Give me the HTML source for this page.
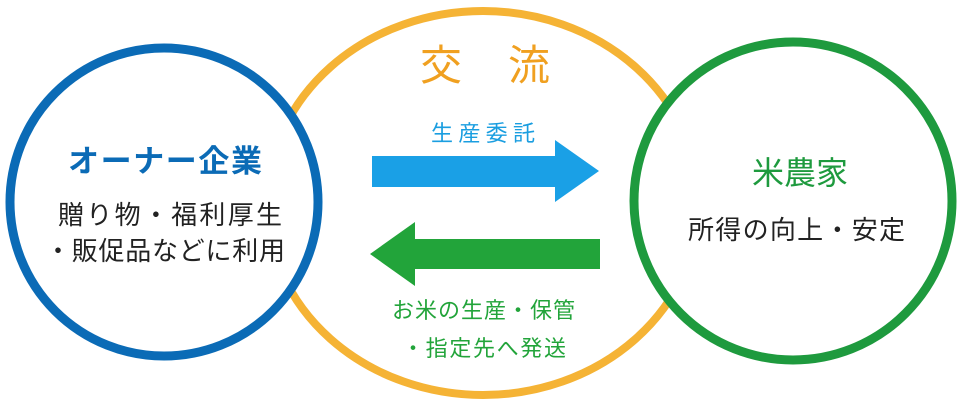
<!DOCTYPE html>
<html><head><meta charset="utf-8"><style>
html,body{margin:0;padding:0;background:#fff;width:964px;height:404px;overflow:hidden}
svg{display:block}
text{font-family:"Liberation Sans","Noto Sans CJK JP",sans-serif}
</style></head><body>
<svg width="964" height="404" viewBox="0 0 964 404">
<ellipse cx="483" cy="203" rx="216" ry="192" fill="#fff" stroke="#f5b335" stroke-width="8"/>
<circle cx="164" cy="202" r="154" fill="#fff" stroke="#0b6bb6" stroke-width="9"/>
<circle cx="793" cy="201" r="159" fill="#fff" stroke="#1e9a3e" stroke-width="9"/>
<text x="420" y="80" font-size="42" fill="#f0a020" textLength="130" lengthAdjust="spacing">交 流</text>
<text x="431" y="141" font-size="22" fill="#1a9ee0" textLength="104" lengthAdjust="spacing">生産委託</text>
<polygon points="372,156 555,156 555,140 599,171 555,202 555,187 372,187" fill="#1aa0e6"/>
<polygon points="600,239 415,239 415,222 370,254 415,286 415,269 600,269" fill="#22a43a"/>
<text x="392" y="318" font-size="22" fill="#22a43a" textLength="183" lengthAdjust="spacing">お米の生産・保管</text>
<text x="402" y="356" font-size="22" fill="#22a43a" textLength="164" lengthAdjust="spacing">・指定先へ発送</text>
<text x="68" y="172" font-size="31" fill="#0b6bb6" font-weight="bold" textLength="194" lengthAdjust="spacing">オーナー企業</text>
<text x="58" y="224" font-size="26" fill="#222" textLength="224" lengthAdjust="spacing">贈り物・福利厚生</text>
<text x="45" y="260" font-size="26" fill="#222" textLength="240" lengthAdjust="spacing">・販促品などに利用</text>
<text x="752" y="184" font-size="32" fill="#1e9a3e" textLength="96" lengthAdjust="spacing">米農家</text>
<text x="688" y="239" font-size="26" fill="#222" textLength="217" lengthAdjust="spacing">所得の向上・安定</text>
</svg>
</body></html>
